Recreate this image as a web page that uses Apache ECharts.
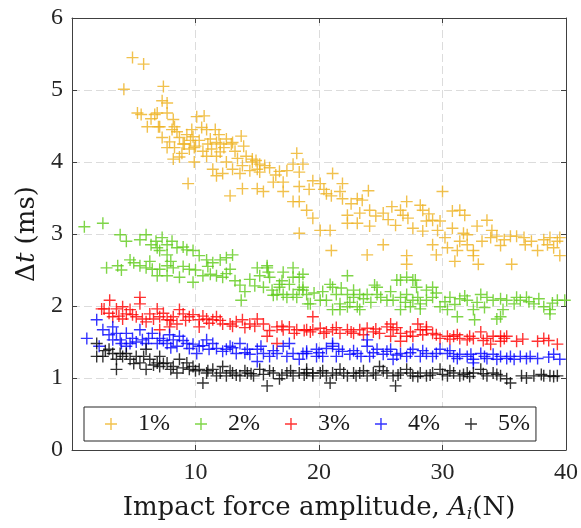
<!DOCTYPE html>
<html>
<head>
<meta charset="utf-8">
<script src="https://cdn.jsdelivr.net/npm/echarts@6/dist/echarts.min.js"></script>
<style>
html,body{margin:0;padding:0;background:#fff;}
#c{width:581px;height:528px;}
</style>
</head>
<body>
<div id="c"></div>
<script>
// ---- data ----
const seriesNames = ['1%', '2%', '3%', '4%', '5%'];
const seriesColors = ['#EDB120', '#5FCB1A', '#FF0000', '#0000FF', '#000000'];
const xTicks = [0, 10, 20, 30, 40];
const yTicks = [0, 1, 2, 3, 4, 5, 6];

const pts1 = [[4.9,5.45],[5.8,5.36],[4.2,5.01],[7.4,5.05],[7.3,4.85],[7.7,4.82],[5.3,4.68],[5.6,4.66],[6.7,4.66],[6.9,4.68],[6.1,4.49],[7.0,4.49],[7.7,4.68],[8.2,4.59],[8.3,4.49],[7.3,4.34],[7.7,4.2],[8.2,4.04],[8.7,4.07],[9.4,3.7],[9.9,4.0],[10.1,4.63],[10.7,4.64],[9.0,4.25],[9.6,4.3],[10.0,4.22],[10.9,4.45],[11.6,4.45],[12.0,4.25],[13.0,4.27],[13.7,4.36],[10.9,4.08],[11.7,4.08],[12.2,3.84],[13.6,3.84],[14.4,3.88],[12.8,3.53],[13.8,3.63],[15.0,3.9],[15.0,3.63],
[8.7,4.34],[9.1,4.25],[9.5,4.18],[9.9,4.2],[9.7,4.45],[10.5,4.48],[11.2,4.32],[11.7,4.27],[12.5,4.32],[12.9,4.25],[13.2,4.15],[14.1,4.08],[14.6,4.04],[11.3,4.18],[12.0,4.14],[12.5,4.0],[11.4,3.9],[13.0,3.9],[13.8,3.95],[14.6,4.0],[11.7,3.81],[8.3,4.2],[8.1,4.45],[7.1,4.49],
[8.9,4.12],[9.3,4.38],[10.3,4.3],[10.6,4.15],[11.0,4.25],[11.9,4.38],[12.3,4.2],[13.4,4.05],[13.9,4.22],[14.9,4.02],[8.5,4.42],[9.8,4.35],[7.9,4.28],[6.4,4.6],
[18.2,4.12],[15.2,3.97],[16.0,3.92],[16.8,3.87],[15.2,3.86],[15.5,3.59],[17.9,3.97],[18.7,3.97],[18.4,3.86],[16.3,3.72],[17.1,3.72],[19.5,3.74],[20.1,3.7],[18.4,3.66],[17.1,3.59],[21.1,3.84],[21.9,3.7],[21.7,3.59],[21.9,3.49],[20.6,3.56],[21.0,3.53],[23.1,3.49],[23.5,3.47],[24.0,3.6],[17.9,3.45],[18.4,3.45],[19.0,3.33],[19.5,3.22],[18.4,3.01],[20.1,3.05],[20.9,3.05],[22.3,3.26],[23.3,3.29],[24.1,3.33],[22.3,3.15],[23.1,3.15],[24.1,3.11],[21.0,2.77],[23.9,2.71],
[15.6,3.95],[16.5,3.82],[17.4,3.88],[19.2,3.62],[20.4,3.62],[22.6,3.42],[24.6,3.25],
[25.2,3.29],[25.9,3.38],[26.6,3.33],[27.1,3.45],[26.8,3.26],[27.2,3.22],[28.2,3.4],[28.4,3.33],[27.6,3.08],[28.4,3.04],[28.7,3.18],[29.2,3.19],[29.8,3.18],[25.2,2.85],[27.1,2.70],[27.1,2.58],[29.2,2.85],[29.5,2.71],[30.0,3.59],[30.8,3.32],[31.4,3.33],[31.8,3.26],[30.8,3.08],[31.7,3.01],[32.0,2.99],[31.4,2.9],[32.0,2.85],[30.4,2.81],[31.2,2.77],[32.5,2.77],[32.5,2.7],[32.9,2.58],[32.8,3.11],[33.6,3.19],[33.9,2.95],[34.4,2.97],[34.7,2.84],[35.5,2.97],[36.0,2.97],[36.6,2.95],[36.7,2.85],[35.6,2.58],[37.7,2.77],[38.2,2.92],[38.7,2.95],[39.3,2.9],[39.0,2.81],[39.5,2.95],[39.5,2.7],
[25.6,3.2],[26.2,3.12],[28.9,3.28],[29.6,3.05],[30.2,2.95],[31.0,2.62],[33.2,2.9],[34.0,3.05],[35.0,2.92],[37.2,2.9],[38.5,2.85]];

const pts2 = [[1.0,3.10],[2.5,3.15],[3.9,2.99],[4.4,2.90],[5.5,2.92],[6.0,2.99],[6.4,2.85],[6.9,2.81],[7.3,2.95],[7.7,2.85],[8.1,2.9],[8.5,2.81],[7.1,2.77],[7.7,2.71],[9.3,2.78],[9.8,2.77],[10.3,2.70],[10.9,2.64],[11.4,2.60],[12.0,2.64],[12.5,2.67],[13.0,2.71],[2.8,2.53],[3.7,2.56],[4.7,2.64],[5.5,2.56],[6.0,2.53],[6.5,2.51],[7.1,2.51],[7.7,2.56],[8.2,2.53],[6.9,2.42],[7.7,2.42],[8.7,2.40],[9.5,2.51],[9.8,2.33],[10.6,2.42],[11.2,2.44],[11.7,2.42],[12.2,2.40],[12.8,2.51],[13.7,2.08],[13.6,2.29],[14.4,2.37],[15.0,2.53],[15.8,2.53],[16.0,2.40],[15.5,2.26],[16.8,2.26],[17.1,2.16],[17.6,2.30],[17.9,2.16],[18.2,2.12],[18.4,2.40],[18.7,2.26],[19.1,2.03],[16.3,2.15],[17.4,2.12],
[5.0,2.6],[6.3,2.62],[8.0,2.62],[9.0,2.55],[10.0,2.5],[11.0,2.55],[12.5,2.45],[13.2,2.35],[14.0,2.2],[14.8,2.28],[16.2,2.22],[17.0,2.35],[4.0,2.5],[6.8,2.9],[9.0,2.82],
[15.8,2.56],[15.9,2.47],[15.2,2.42],[17.1,2.47],[17.9,2.53],[17.9,2.40],[18.7,2.44],[16.8,2.30],[16.6,2.16],[18.4,2.23],[19.0,2.16],[19.3,2.03],[18.7,2.22],
[22.3,2.42],[20.9,2.30],[21.4,2.16],[22.3,2.16],[22.8,2.22],[23.3,2.16],[23.9,2.16],[24.5,2.29],[24.7,2.16],[20.1,2.08],[20.6,2.08],[21.7,2.03],[22.3,1.99],[23.1,1.99],[21.7,1.95],[23.3,1.95],[21.1,2.26],[21.1,1.95],[22.8,2.12],[24.7,2.26],
[19.6,2.18],[20.3,2.2],[21.8,2.25],[22.5,2.05],[23.6,2.1],[24.2,2.05],[25.0,2.12],[25.8,2.2],
[26.3,2.36],[27.1,2.40],[27.6,2.36],[27.9,2.26],[28.7,2.22],[29.2,2.26],[25.5,2.08],[26.0,2.08],[26.6,2.12],[27.1,2.16],[27.6,2.08],[28.2,2.03],[28.7,2.08],[29.2,2.12],[26.6,1.95],[27.4,1.99],[28.2,1.96],[26.6,2.36],[27.8,2.36],
[27.0,2.05],[28.0,2.12],[29.5,2.18],
[29.8,1.99],[30.4,1.95],[30.6,2.12],[31.4,2.10],[32.0,2.08],[32.5,1.95],[33.1,2.16],[33.6,2.12],[34.1,2.08],[34.7,2.10],[34.9,1.95],[35.8,2.03],[36.3,2.08],[36.8,2.12],[37.4,2.03],[38.2,1.99],[38.7,1.95],[39.3,2.08],[39.9,2.08],[31.2,1.85],[32.6,1.81],[34.4,1.82],[38.7,1.89],[34.7,1.85],
[30.2,2.06],[31.0,2.02],[31.8,2.14],[32.8,2.05],[33.4,1.98],[35.2,2.08],[36.0,2.12],[37.0,2.06],[37.8,2.1],[38.9,2.04]];

const pts3 = [[3.05,2.08],[2.6,1.96],[2.4,1.96],[3.6,1.96],[4.1,1.99],[4.4,1.89],[4.7,1.95],[5.5,2.12],[5.5,2.03],[5.2,1.85],[5.7,1.82],[6.3,1.89],[6.9,1.96],[7.1,1.85],[7.7,1.81],[8.2,1.85],[8.7,1.95],[9.0,1.89],[9.5,1.85],[9.8,1.88],[10.3,1.81],[10.9,1.82],[11.4,1.81],[11.7,1.85],[12.2,1.75],[12.8,1.75],[13.3,1.78],[13.8,1.81],[14.4,1.75],[15.0,1.82],[15.5,1.75],[15.8,1.58],[16.6,1.71],[17.1,1.67],[17.6,1.71],[18.2,1.67],[16.6,1.48],[19.3,1.64],[7.1,1.67],[7.9,1.71],[8.5,1.75],[10.3,1.71],[3.3,1.85],[4.1,1.82],[6.0,1.78],
[3.0,1.9],[3.8,1.86],[4.9,1.88],[6.6,1.82],[7.4,1.9],[8.0,1.8],[9.2,1.8],[10.6,1.86],[11.1,1.76],[12.0,1.8],[13.0,1.72],[14.0,1.7],[14.8,1.72],[16.0,1.66],[17.0,1.72],[18.0,1.62],[18.8,1.66],
[19.5,1.85],[19.0,1.67],[19.5,1.67],[20.1,1.69],[20.6,1.64],[21.1,1.67],[21.7,1.62],[22.3,1.67],[22.8,1.62],[23.3,1.67],[23.9,1.69],[24.4,1.64],[24.9,1.62],[25.5,1.71],[26.0,1.67],[26.6,1.62],[27.1,1.58],[27.6,1.58],[28.2,1.67],[28.7,1.67],[29.2,1.62],[29.8,1.55],[30.4,1.58],[30.9,1.58],[31.4,1.55],[32.0,1.53],[32.5,1.55],[33.1,1.64],[33.6,1.55],[34.1,1.58],[34.7,1.58],[35.2,1.58],[36.0,1.51],[37.7,1.51],[38.2,1.55],[39.3,1.47],[25.8,1.75],[28.0,1.75],[28.7,1.71],[34.7,1.51],[33.9,1.47],[25.8,1.58],[26.6,1.51],
[20.4,1.62],[21.4,1.7],[22.6,1.64],[23.6,1.6],[24.6,1.68],[26.3,1.7],[27.4,1.64],[28.4,1.6],[29.5,1.6],[30.6,1.54],[31.2,1.6],[32.2,1.58],[33.3,1.52],[35.0,1.55],[36.5,1.54],[38.6,1.52]];

const pts4 = [[1.2,1.55],[2.0,1.81],[2.5,1.67],[3.3,1.71],[3.6,1.62],[3.9,1.53],[4.4,1.62],[4.7,1.48],[4.9,1.55],[5.5,1.67],[5.7,1.53],[6.0,1.48],[6.5,1.62],[6.9,1.48],[7.1,1.55],[7.7,1.48],[7.9,1.60],[8.2,1.53],[8.5,1.44],[8.7,1.58],[9.3,1.48],[9.5,1.41],[9.8,1.47],[10.1,1.34],[10.3,1.44],[10.9,1.53],[11.4,1.48],[11.7,1.41],[12.2,1.37],[12.8,1.44],[13.3,1.34],[13.6,1.48],[14.2,1.40],[14.4,1.33],[15.0,1.40],[15.5,1.34],[16.0,1.30],[16.6,1.34],[17.1,1.44],[17.6,1.48],[17.9,1.34],[18.4,1.26],[19.0,1.37],[19.8,1.30],[15.0,1.23],[2.2,1.44],[3.3,1.53],[4.4,1.44],
[3.0,1.6],[4.0,1.48],[5.2,1.5],[6.2,1.55],[7.4,1.52],[8.0,1.42],[9.0,1.52],[10.6,1.45],[11.1,1.4],[12.5,1.4],[13.0,1.42],[14.0,1.35],[15.3,1.44],[16.3,1.38],[17.4,1.3],[18.7,1.34],
[19.0,1.34],[19.8,1.40],[20.3,1.30],[20.6,1.41],[21.1,1.44],[21.4,1.30],[21.9,1.37],[22.5,1.33],[23.1,1.34],[23.9,1.44],[24.1,1.30],[24.7,1.40],[25.2,1.33],[25.8,1.40],[26.0,1.26],[26.6,1.34],[27.1,1.30],[27.6,1.40],[28.2,1.30],[28.7,1.34],[29.2,1.30],[29.8,1.40],[30.4,1.34],[30.9,1.30],[31.4,1.33],[32.0,1.30],[32.5,1.26],[33.1,1.34],[33.6,1.27],[34.1,1.33],[34.7,1.30],[35.2,1.27],[35.8,1.26],[36.3,1.30],[37.1,1.30],[37.7,1.27],[39.0,1.33],[39.5,1.26],[21.1,1.48],[23.9,1.53],[32.5,1.21],
[20.0,1.35],[21.6,1.4],[22.8,1.38],[23.4,1.3],[24.4,1.35],[25.5,1.37],[26.3,1.32],[27.4,1.35],[28.4,1.38],[29.5,1.34],[30.6,1.38],[31.2,1.27],[32.3,1.33],[33.4,1.3],[34.4,1.26],[35.5,1.3],[36.8,1.27],[38.6,1.29]];

const pts5 = [[2.0,1.48],[2.0,1.30],[2.5,1.30],[3.0,1.40],[3.3,1.34],[3.6,1.26],[4.1,1.30],[4.4,1.34],[4.7,1.26],[5.2,1.30],[5.5,1.21],[6.0,1.12],[6.3,1.26],[6.9,1.21],[7.1,1.16],[7.7,1.21],[8.2,1.16],[8.5,1.07],[8.7,1.26],[9.3,1.21],[9.5,1.12],[9.8,1.16],[10.3,1.12],[10.6,0.93],[10.9,1.07],[11.4,1.12],[12.0,1.07],[12.2,1.16],[12.5,1.03],[13.0,1.07],[13.6,1.03],[14.2,1.07],[14.7,1.03],[15.2,1.12],[15.8,0.89],[16.3,1.07],[16.8,0.99],[17.4,1.07],[17.9,1.03],[18.4,1.07],[19.0,1.07],[19.5,1.07],[6.0,1.40],[7.1,1.30],[3.6,1.12],
[2.7,1.38],[3.9,1.34],[5.0,1.2],[5.8,1.3],[6.6,1.18],[7.4,1.2],[8.0,1.12],[9.0,1.14],[10.0,1.1],[11.0,1.1],[11.7,1.03],[12.8,1.1],[13.3,1.04],[14.0,1.1],[14.5,1.06],[15.5,1.05],[16.0,1.1],[17.0,1.04],[17.7,1.1],[18.8,1.04],
[19.0,1.12],[19.5,1.03],[20.1,1.07],[20.6,1.03],[20.9,0.93],[21.1,1.07],[21.7,1.12],[22.3,1.03],[22.8,1.07],[23.3,1.07],[23.9,1.03],[24.4,1.07],[24.9,1.16],[25.5,1.07],[26.0,1.03],[26.2,0.89],[26.6,1.07],[27.1,1.12],[27.6,1.03],[28.2,1.07],[28.7,1.03],[29.2,1.07],[29.8,1.12],[30.4,1.03],[30.9,1.07],[31.4,1.03],[32.0,1.07],[32.5,1.07],[33.1,1.12],[33.6,1.03],[34.1,1.07],[34.7,1.03],[35.2,0.99],[35.5,0.93],[36.8,1.00],[37.4,1.03],[38.2,1.03],[38.7,1.03],[39.3,1.03],
[20.3,1.1],[21.4,1.04],[22.0,1.07],[23.0,1.03],[23.6,1.1],[24.6,1.04],[25.2,1.1],[26.4,1.04],[27.4,1.07],[28.0,1.02],[29.0,1.04],[30.0,1.05],[30.6,1.1],[31.7,1.05],[32.2,1.02],[33.3,1.06],[34.4,1.05],[36.4,1.03],[38.0,1.05],[39.0,1.02]];

const allPts = [pts1, pts2, pts3, pts4, pts5];

// ---- chart ----
const plusPath = 'path://M0,5.3H12V6.7H0Z M5.3,0H6.7V12H5.3Z';
const tickFont = 'Liberation Serif';
const titleFont = 'DejaVu Serif';
const axisColor = '#404040';

const chart = echarts.init(document.getElementById('c'), null, {renderer: 'canvas'});

const gridLine = {show: true, lineStyle: {color: '#dcdcdc', width: 1, type: [8, 4]}};

function mkX(pos, main) {
  return {
    type: 'value', position: pos, min: xTicks[0], max: xTicks[xTicks.length - 1], interval: xTicks[1] - xTicks[0],
    axisLine: {show: true, onZero: false, lineStyle: {color: axisColor, width: 1}},
    axisTick: {show: true, inside: true, length: 5, lineStyle: {color: axisColor}},
    axisLabel: {show: main, showMinLabel: false, margin: 11, fontFamily: tickFont, fontSize: 24, color: '#262626'},
    splitLine: main ? gridLine : {show: false},
    name: main ? '{n|Impact force amplitude, }{i|A}{s|i}{n|(N)}' : '',
    nameLocation: 'middle', nameGap: 44,
    nameTextStyle: {
      fontFamily: titleFont, fontSize: 26, color: '#1a1a1a',
      rich: {
        n: {fontFamily: titleFont, fontSize: 26, color: '#1a1a1a'},
        i: {fontFamily: titleFont, fontSize: 26, fontStyle: 'italic', color: '#1a1a1a'},
        s: {fontFamily: titleFont, fontSize: 17, fontStyle: 'italic', color: '#1a1a1a', padding: [12, 0, 0, 0]}
      }
    }
  };
}
function mkY(pos, main) {
  return {
    type: 'value', position: pos, min: yTicks[0], max: yTicks[yTicks.length - 1], interval: yTicks[1] - yTicks[0],
    axisLine: {show: true, onZero: false, lineStyle: {color: axisColor, width: 1}},
    axisTick: {show: true, inside: true, length: 5, lineStyle: {color: axisColor}},
    axisLabel: {show: main, margin: 9, fontFamily: tickFont, fontSize: 24, color: '#262626'},
    splitLine: main ? gridLine : {show: false},
    name: main ? '{n|Δ}{i|t}{n| (ms)}' : '',
    nameLocation: 'middle', nameGap: 30,
    nameTextStyle: {
      fontFamily: titleFont, fontSize: 26, color: '#1a1a1a',
      rich: {
        n: {fontFamily: titleFont, fontSize: 26, color: '#1a1a1a'},
        i: {fontFamily: titleFont, fontSize: 26, fontStyle: 'italic', color: '#1a1a1a'}
      }
    }
  };
}

const option = {
  animation: false,
  backgroundColor: '#ffffff',
  grid: {left: 72, right: 15, top: 18, bottom: 73, containLabel: false},
  xAxis: [mkX('bottom', true), mkX('top', false)],
  yAxis: [mkY('left', true), mkY('right', false)],
  legend: {
    show: true, orient: 'horizontal', left: 84, top: 407,
    padding: [5, 6, 5, 21], itemGap: 25, itemWidth: 12, itemHeight: 12,
    backgroundColor: '#ffffff', borderColor: '#262626', borderWidth: 1, borderRadius: 0,
    textStyle: {fontFamily: tickFont, fontSize: 24, color: '#1a1a1a', lineHeight: 24, padding: [0, 0, 0, 16]},
    data: seriesNames.map(n => ({name: n, icon: plusPath}))
  },
  series: allPts.map((pts, k) => ({
    type: 'scatter', name: seriesNames[k], xAxisIndex: 0, yAxisIndex: 0,
    symbol: plusPath, symbolSize: 12,
    itemStyle: {color: seriesColors[k], opacity: 0.8},
    emphasis: {disabled: true},
    data: pts
  }))
};
chart.setOption(option);
</script>
</body>
</html>
